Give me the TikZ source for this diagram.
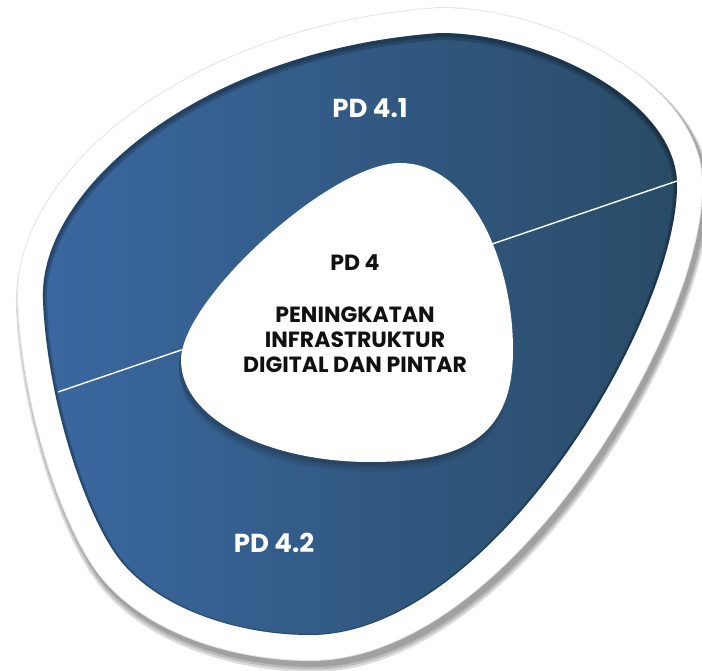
\documentclass[tikz,border=0pt]{standalone}
\usepackage{fontspec}
\setmainfont{Poppins}
\usetikzlibrary{positioning}
\definecolor{blueleft}{HTML}{3A68A0}
\definecolor{blueright}{HTML}{294B67}
\definecolor{coretext}{HTML}{111111}
\definecolor{shadowgrey}{HTML}{1C2630}
\tikzstyle{sublabel} = [text=white, font=\bfseries\fontsize{26}{30}\selectfont]
\tikzstyle{corelabel} = [text=coretext, align=center, font=\bfseries\fontsize{22}{25}\selectfont]
\tikzstyle{cut} = [white, line width=1.4pt]
\tikzstyle{rim} = [white, line width=50pt, line join=round, fill=white]
\newcommand\outerblob{(43,300) .. controls (38,190) and (200,50) .. (440,33)
  .. controls (540,33) and (677,100) .. (677,185)
  .. controls (677,320) and (490,635) .. (310,635)
  .. controls (240,635) and (160,610) .. (120,560)
  .. controls (85,515) and (47,400) .. (43,300) -- cycle}
\newcommand\innerblob{(400,163) .. controls (470,163) and (513,260) .. (513,350)
  .. controls (513,440) and (460,462) .. (370,462)
  .. controls (270,462) and (181,420) .. (181,360)
  .. controls (181,300) and (330,163) .. (400,163) -- cycle}

\begin{document}
\begin{tikzpicture}[x=1pt, y=-1pt]
\useasboundingbox (0,0) rectangle (702,671);
\foreach \w/\s in {60/7, 57/6, 54/5}
  \draw[black, opacity=0.14, line width=\w pt, line join=round, shift={(3,\s)}] \outerblob;
\draw[gray!20, line width=52pt, line join=round] \outerblob;
\draw[rim] \outerblob;
\shade[left color=blueleft, right color=blueright] \outerblob;
\begin{scope}
  \clip \outerblob;
  \foreach \w/\s in {4/2, 8/3}
    \draw[black, opacity=0.18, line width=\w pt, shift={(0,\s)}] \outerblob;
\end{scope}
\coordinate (cutL) at (58,392);
\coordinate (cutR) at (677,181);
\draw[cut] (cutL) -- (cutR);
\foreach \s/\o in {10/0.10, 7/0.14, 4/0.2}
  \fill[shadowgrey, opacity=\o, shift={(-2,\s)}] \innerblob;
\fill[white] \innerblob;
\node (pd41) [sublabel] at (370,108) {PD 4.1};
\node (pd42) [sublabel] at (274,543) {PD 4.2};
\node (pd4) [corelabel] at (355,263) {PD 4};
\node (title) [corelabel] at (355,340) {PENINGKATAN\\INFRASTRUKTUR\\DIGITAL DAN PINTAR};
\end{tikzpicture}
\end{document}
